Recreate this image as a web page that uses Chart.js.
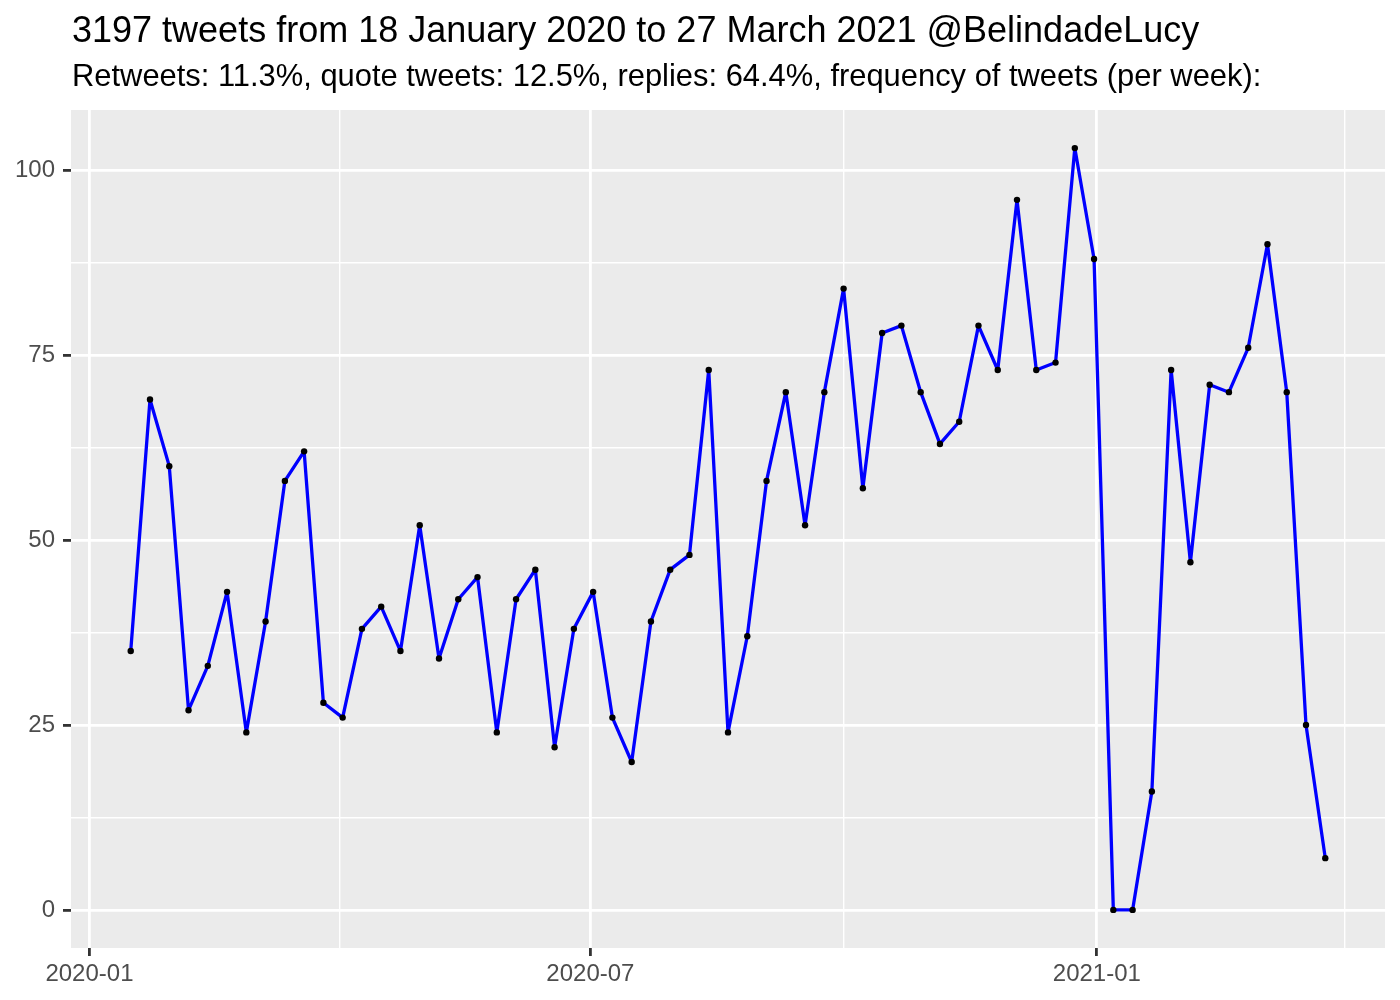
<!DOCTYPE html>
<html>
<head>
<meta charset="utf-8">
<script src="https://cdn.jsdelivr.net/npm/chart.js@4/dist/chart.umd.min.js"></script>
<style>
  body { margin: 0; background: #fff; }
</style>
</head>
<body>
<canvas id="chart" width="1400" height="1000"></canvas>
<script>
// weekly tweet counts
const weeks = [
  "2020-01-16", "2020-01-23", "2020-01-30", "2020-02-06", "2020-02-13", "2020-02-20", "2020-02-27",
  "2020-03-05", "2020-03-12", "2020-03-19", "2020-03-26", "2020-04-02", "2020-04-09", "2020-04-16",
  "2020-04-23", "2020-04-30", "2020-05-07", "2020-05-14", "2020-05-21", "2020-05-28", "2020-06-04",
  "2020-06-11", "2020-06-18", "2020-06-25", "2020-07-02", "2020-07-09", "2020-07-16", "2020-07-23",
  "2020-07-30", "2020-08-06", "2020-08-13", "2020-08-20", "2020-08-27", "2020-09-03", "2020-09-10",
  "2020-09-17", "2020-09-24", "2020-10-01", "2020-10-08", "2020-10-15", "2020-10-22", "2020-10-29",
  "2020-11-05", "2020-11-12", "2020-11-19", "2020-11-26", "2020-12-03", "2020-12-10", "2020-12-17",
  "2020-12-24", "2020-12-31", "2021-01-07", "2021-01-14", "2021-01-21", "2021-01-28", "2021-02-04",
  "2021-02-11", "2021-02-18", "2021-02-25", "2021-03-04", "2021-03-11", "2021-03-18", "2021-03-25"
];
const tweets = [
  35, 69, 60, 27, 33, 43, 24,
  39, 58, 62, 28, 26, 38, 41,
  35, 52, 34, 42, 45, 24, 42,
  46, 22, 38, 43, 26, 20, 39,
  46, 48, 73, 24, 37, 58, 70,
  52, 70, 84, 57, 78, 79, 70,
  63, 66, 79, 73, 96, 73, 74,
  103, 88, 0, 0, 16, 73, 47,
  71, 70, 76, 90, 70, 25, 7
];

const xTickDates = ["2020-01-01", "2020-04-01", "2020-07-01", "2020-10-01", "2021-01-01", "2021-04-01"];
const xTickLabels = ["2020-01", "", "2020-07", "", "2021-01", ""];
const yTicks = [0, 12.5, 25, 37.5, 50, 62.5, 75, 87.5, 100];
const yTickLabels = ["0", "", "25", "", "50", "", "75", "", "100"];

const title = "3197 tweets from 18 January 2020 to 27 March 2021 @BelindadeLucy";
const subtitle = "Retweets: 11.3%, quote tweets: 12.5%, replies: 64.4%, frequency of tweets (per week):";

const FONT = '"Liberation Sans", Arial, Helvetica, sans-serif';

const origin = Date.parse("2020-01-01");
const toDay = s => (Date.parse(s) - origin) / 864e5;

const points = weeks.map((w, i) => ({ x: toDay(w), y: tweets[i] }));
const xTicks = xTickDates.map(toDay);

// ggplot style 5% expansion
const xs = points.map(p => p.x);
const xLo = Math.min(...xs), xHi = Math.max(...xs);
const xPad = (xHi - xLo) * 0.05;
const yLo = Math.min(...tweets), yHi = Math.max(...tweets);
const yPad = (yHi - yLo) * 0.05;

const labelFor = (ticks, labels, v) => {
  const i = ticks.findIndex(t => Math.abs(t - v) < 1e-6);
  return i >= 0 ? labels[i] : "";
};

const panel = {
  id: "panel",
  beforeDraw(chart) {
    const { ctx, chartArea: a } = chart;
    ctx.save();
    ctx.fillStyle = "#EBEBEB";
    ctx.fillRect(a.left, a.top, a.right - a.left, a.bottom - a.top);
    ctx.restore();
  },
  afterDraw(chart) {
    const { ctx, chartArea: a } = chart;
    ctx.save();
    ctx.fillStyle = "#000";
    ctx.textBaseline = "alphabetic";
    ctx.textAlign = "left";
    ctx.font = "36px " + FONT;
    ctx.fillText(title, a.left + 1, 42);
    ctx.font = "30.9px " + FONT;
    ctx.fillText(subtitle, a.left + 1, 86);
    ctx.restore();
  }
};

function gridOpts(ticks, labels) {
  const major = c => labelFor(ticks, labels, c.tick.value) !== "";
  return {
    color: "#FFFFFF",
    lineWidth: c => major(c) ? 2.8 : 1.4,
    tickColor: c => major(c) ? "#333333" : "rgba(0,0,0,0)",
    tickWidth: 2.8,
    tickLength: 8
  };
}

new Chart(document.getElementById("chart"), {
  type: "line",
  data: {
    datasets: [{
      data: points,
      borderColor: "#0000FF",
      borderWidth: 3.3,
      borderJoinStyle: "round",
      borderCapStyle: "round",
      tension: 0,
      pointRadius: 3.2,
      pointBackgroundColor: "#000000",
      pointBorderWidth: 0,
      pointHoverRadius: 3.2
    }]
  },
  options: {
    responsive: false,
    animation: false,
    layout: { padding: { top: 110, right: 15, left: 0, bottom: 0 } },
    plugins: { legend: { display: false }, tooltip: { enabled: false } },
    scales: {
      x: {
        type: "linear",
        min: xLo - xPad,
        max: xHi + xPad,
        afterBuildTicks: s => { s.ticks = xTicks.map(v => ({ value: v })); },
        afterFit: s => { s.height = 52; },
        border: { display: false },
        grid: gridOpts(xTicks, xTickLabels),
        ticks: {
          autoSkip: false,
          maxRotation: 0,
          padding: 4,
          color: "#4D4D4D",
          font: { family: FONT, size: 24 },
          callback: v => labelFor(xTicks, xTickLabels, v)
        }
      },
      y: {
        type: "linear",
        min: yLo - yPad,
        max: yHi + yPad,
        afterBuildTicks: s => { s.ticks = yTicks.map(v => ({ value: v })); },
        afterFit: s => { s.width = 71; },
        border: { display: false },
        grid: gridOpts(yTicks, yTickLabels),
        ticks: {
          autoSkip: false,
          padding: 8,
          color: "#4D4D4D",
          font: { family: FONT, size: 24 },
          callback: v => labelFor(yTicks, yTickLabels, v)
        }
      }
    }
  },
  plugins: [panel]
});
</script>
</body>
</html>
